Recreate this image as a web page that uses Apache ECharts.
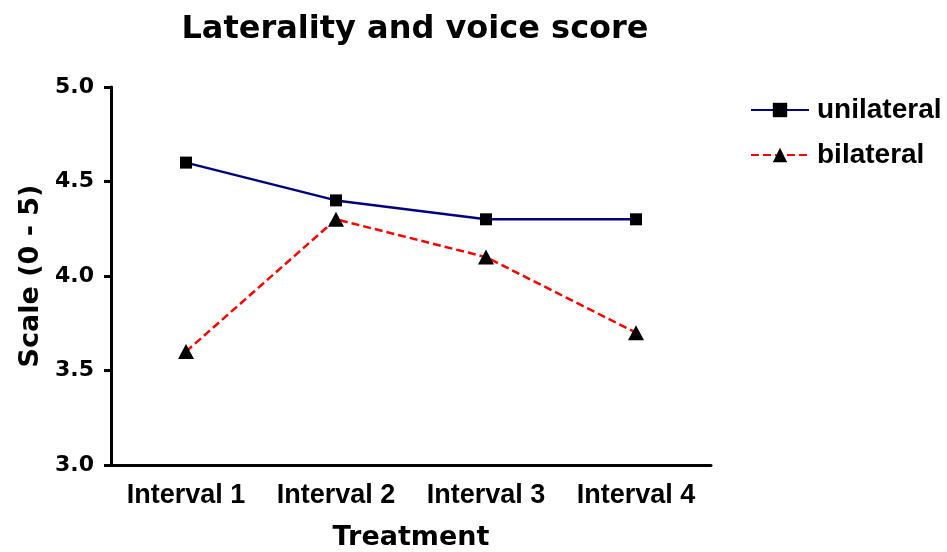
<!DOCTYPE html>
<html>
<head>
<meta charset="utf-8">
<script src="https://cdn.jsdelivr.net/npm/echarts@6/dist/echarts.min.js"></script>
<style>html,body{margin:0;padding:0;background:#fff}#c{width:947px;height:552px}</style>
</head>
<body>
<div id="c"></div>
<script>
var categories = ['Interval 1', 'Interval 2', 'Interval 3', 'Interval 4'];
var unilateral = [4.6, 4.4, 4.3, 4.3];
var bilateral = [3.6, 4.3, 4.1, 3.7];
var yTicks = [3.0, 3.5, 4.0, 4.5, 5.0];

var chart = echarts.init(document.getElementById('c'), null, {renderer: 'canvas'});
chart.setOption({
  backgroundColor: '#ffffff',
  animation: false,
  title: {
    text: 'Laterality and voice score',
    left: 410, top: 9, textAlign: 'center',
    textStyle: {fontFamily: 'DejaVu Sans', fontWeight: 'bold', fontSize: 32, color: '#000'}
  },
  legend: {
    orient: 'vertical', left: 745, top: 91, itemGap: 17,
    itemWidth: 58, itemHeight: 18,
    textStyle: {fontFamily: 'Liberation Sans', fontWeight: 'bold', fontSize: 28, color: '#000', padding: [0, 0, 0, 3]},
    data: ['unilateral', 'bilateral']
  },
  grid: {left: 111, top: 87, width: 600, height: 378, containLabel: false, outerBoundsMode: 'none'},
  xAxis: {
    type: 'category', data: categories, boundaryGap: true,
    name: 'Treatment', nameLocation: 'middle', nameGap: 59,
    nameTextStyle: {fontFamily: 'DejaVu Sans', fontWeight: 'bold', fontSize: 27, color: '#000'},
    axisLine: {lineStyle: {color: '#000', width: 3}},
    axisTick: {alignWithLabel: true, length: 7, lineStyle: {color: '#000', width: 3}},
    axisLabel: {interval: 0, hideOverlap: false, margin: 17, fontFamily: 'Liberation Sans', fontWeight: 'bold', fontSize: 27, color: '#000'},
    splitLine: {show: false}
  },
  yAxis: {
    type: 'value', min: 3.0, max: 5.0, interval: 0.5,
    name: 'Scale (0 - 5)', nameLocation: 'middle', nameGap: 67,
    nameTextStyle: {fontFamily: 'DejaVu Sans', fontWeight: 'bold', fontSize: 27, color: '#000'},
    axisLine: {show: true, lineStyle: {color: '#000', width: 3}},
    axisTick: {show: true, length: 7, lineStyle: {color: '#000', width: 3}},
    axisLabel: {margin: 17, fontFamily: 'DejaVu Sans', fontWeight: 'bold', fontSize: 22, color: '#000',
      formatter: function (v) { return v.toFixed(1); }},
    splitLine: {show: false}
  },
  series: [
    {
      name: 'unilateral', type: 'line', data: unilateral,
      symbol: 'rect', symbolSize: 12,
      itemStyle: {color: '#000'},
      lineStyle: {color: '#000080', width: 2.5, type: 'solid'}
    },
    {
      name: 'bilateral', type: 'line', data: bilateral,
      symbol: 'triangle', symbolSize: [16, 15],
      itemStyle: {color: '#000'},
      lineStyle: {color: '#ff0000', width: 2.5, type: [8, 4]}
    }
  ]
});
</script>
</body>
</html>
